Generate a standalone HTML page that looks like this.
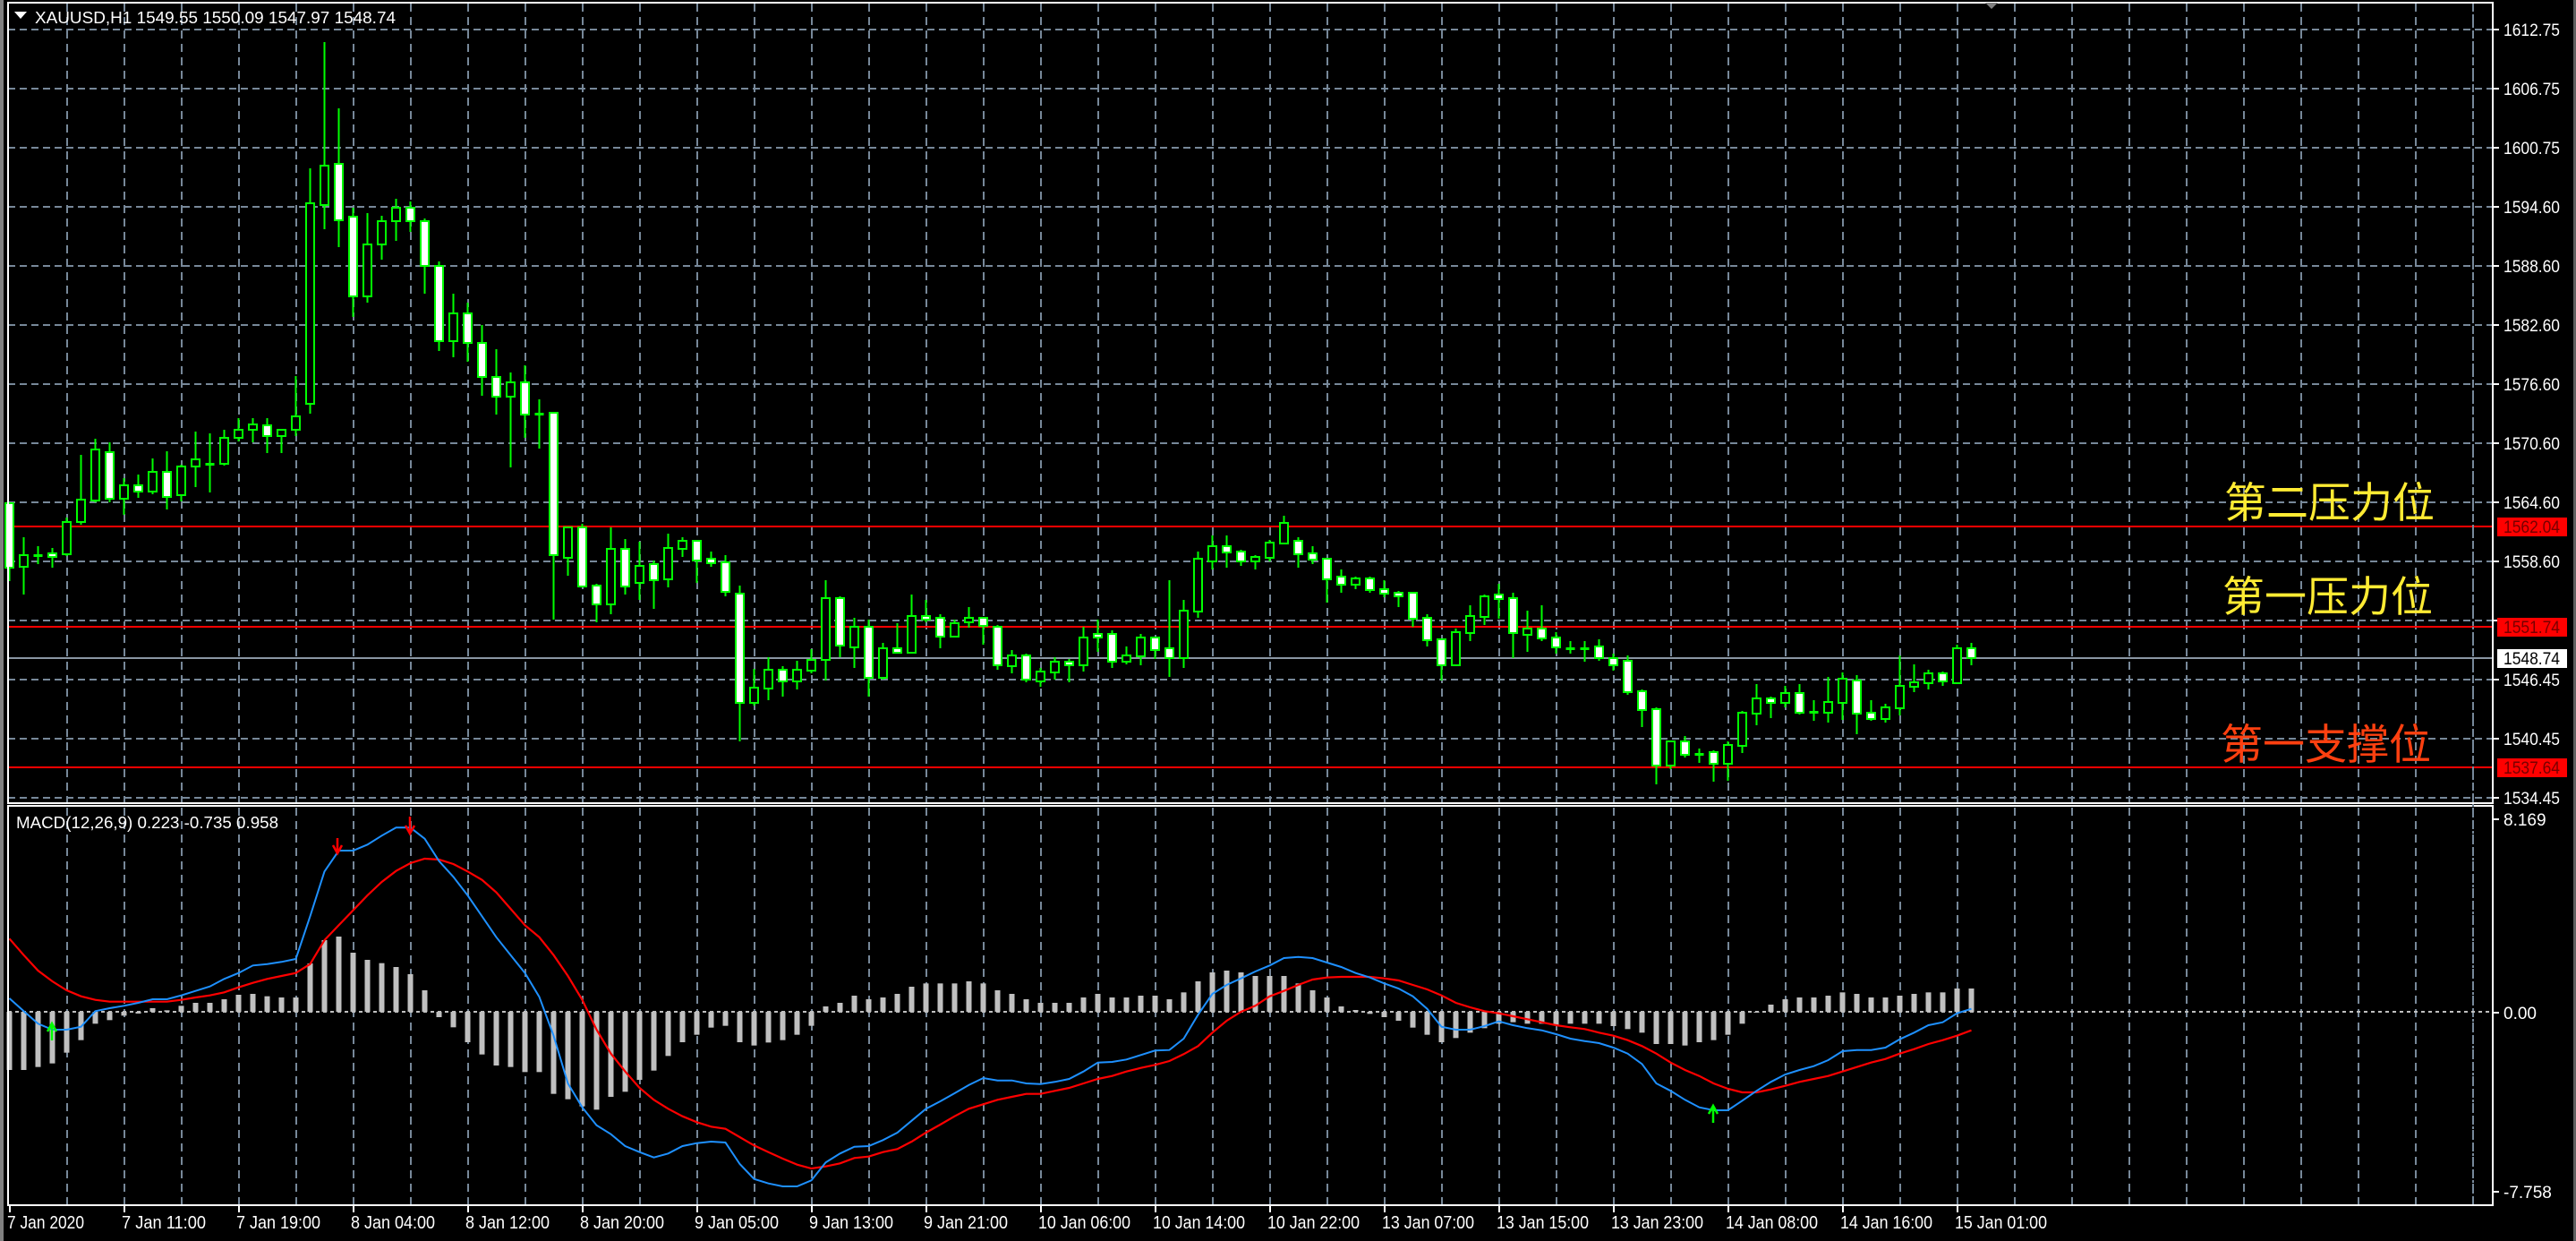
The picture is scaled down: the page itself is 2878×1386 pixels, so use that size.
<!DOCTYPE html>
<html><head><meta charset="utf-8"><style>
html,body{margin:0;padding:0;background:#000;overflow:hidden}
svg{display:block}
text{font-family:"Liberation Sans","Noto Sans CJK SC",sans-serif}
</style></head><body>
<svg id="s" width="2878" height="1386" xmlns="http://www.w3.org/2000/svg">
<rect x="0" y="0" width="2878" height="1386" fill="#000"/>
<rect x="0" y="0" width="4" height="1386" fill="#808080"/>
<rect x="2875" y="0" width="3" height="1386" fill="#606060"/>
<g id="grid"></g>
<g id="lines"></g>
<g id="candles"></g>
<g id="macd"></g>
<g id="axes"></g>
<text x="39" y="26" fill="#fff" font-size="18" textLength="403" lengthAdjust="spacingAndGlyphs">XAUUSD,H1  1549.55 1550.09 1547.97 1548.74</text>
<polygon points="16,13 30,13 23,21" fill="#fff"/>
<polygon points="2218,3 2232,3 2225,10" fill="#808080"/>
<text x="18" y="925" fill="#fff" font-size="18" textLength="293" lengthAdjust="spacingAndGlyphs">MACD(12,26,9) 0.223 -0.735 0.958</text>
<text x="2485" y="578" fill="#ffeb33" font-size="47" style='font-family:"Noto Sans CJK SC",sans-serif'>第二压力位</text>
<text x="2483" y="683" fill="#ffeb33" font-size="47" style='font-family:"Noto Sans CJK SC",sans-serif'>第一压力位</text>
<text x="2481" y="848" fill="#ff4010" font-size="47" style='font-family:"Noto Sans CJK SC",sans-serif'>第一支撑位</text>
</svg>
<script>
var NS="http://www.w3.org/2000/svg";
function el(g,t,a){var e=document.createElementNS(NS,t);for(var k in a)e.setAttribute(k,a[k]);document.getElementById(g).appendChild(e);return e;}
function tx(g,x,y,s,a){var e=el(g,"text",a);e.setAttribute("x",x);e.setAttribute("y",y);e.textContent=s;return e;}
var GC="#778899";
// horizontal grid main
for(var k=0;k<14;k++){var y=33+66*k;el("grid","line",{x1:9,x2:2785,y1:y,y2:y,stroke:GC,"stroke-width":2,"stroke-dasharray":"8,5"});}
// vertical grid
for(var x=75;x<2785;x+=64){
 el("grid","line",{x1:x,x2:x,y1:4,y2:896,stroke:GC,"stroke-width":2,"stroke-dasharray":"9,6"});
 el("grid","line",{x1:x,x2:x,y1:902,y2:1345,stroke:GC,"stroke-width":2,"stroke-dasharray":"9,6"});
}
// level lines
[588,700,857].forEach(function(y){el("lines","line",{x1:9,x2:2785,y1:y,y2:y,stroke:"#ff0000","stroke-width":2});});
el("lines","line",{x1:9,x2:2785,y1:735,y2:735,stroke:"#8a96a3","stroke-width":2});
// candles [bodyTop, bodyBot, wickTop, wickBot, filled]
var C=[[562,634,562,649,1],[620,633,600,664,0],[620,621,610,630,0],[618,622,612,634,1],[583,619,578,621,0],[558,583,508,586,0],[502,559,490,561,0],[505,557,494,561,1],[542,557,534,575,0],[542,549,530,556,1],
[527,549,512,552,0],[527,555,504,569,1],[521,553,519,560,0],[513,521,482,544,0],[518,518,484,550,0],[489,518,480,520,0],[480,489,467,493,0],[474,480,467,494,0],[475,487,467,506,1],[480,487,479,506,0],
[465,480,420,487,0],[227,451,188,462,0],[185,229,47,256,0],[183,246,121,276,1],[242,331,232,354,1],[273,331,238,338,0],[247,273,241,290,0],[232,247,222,269,0],[232,247,225,259,1],[247,297,244,328,1],
[297,381,292,392,1],[350,381,328,399,0],[350,383,338,404,1],[383,421,363,442,1],[421,443,390,463,1],[427,443,416,522,0],[427,463,408,489,1],[462,462,446,501,0],[461,620,461,692,1],[589,623,589,643,0],
[589,655,585,655,1],[654,675,652,695,1],[613,675,589,686,0],[613,655,602,664,1],[632,651,605,670,0],[630,648,626,680,1],[612,647,596,656,0],[604,613,600,622,0],[604,626,604,651,1],[624,629,616,633,1],
[628,661,620,666,1],[663,785,654,828,1],[768,785,747,788,0],[748,769,734,782,0],[748,761,744,778,1],[748,761,738,770,0],[737,749,725,752,0],[668,737,648,760,0],[668,721,666,734,1],[700,723,690,746,0],
[700,757,692,778,1],[724,757,718,759,0],[724,729,696,730,1],[688,729,664,730,0],[688,692,670,695,1],[690,711,686,724,1],[696,711,692,712,0],[690,695,678,701,0],[690,699,690,720,1],[700,743,698,748,1],
[732,744,726,752,0],[732,759,730,762,1],[750,761,746,767,0],[739,751,734,759,0],[739,743,736,762,1],[712,743,700,750,0],[708,712,692,728,1],[708,739,704,746,1],[732,739,722,742,0],[712,733,708,743,0],
[712,726,712,736,1],[724,735,648,756,1],[682,735,670,746,0],[624,683,616,690,0],[610,627,598,636,0],[610,617,598,634,1],[616,627,614,632,1],[622,627,620,636,0],[606,623,603,627,0],[584,607,576,607,0],
[604,619,600,634,1],[618,625,610,630,1],[624,647,624,673,1],[644,653,636,662,1],[646,653,644,658,0],[646,659,644,662,1],[658,663,648,667,1],[662,666,660,678,1],[662,691,662,700,1],[690,715,686,722,1],
[714,743,714,760,1],[706,743,702,743,0],[688,707,676,716,0],[666,689,664,698,0],[664,669,652,691,1],[668,707,662,735,1],[702,709,682,728,0],[702,713,676,716,1],[712,723,706,730,1],[724,724,716,730,0],
[724,724,716,739,0],[722,735,714,738,1],[735,743,730,749,1],[738,773,732,776,1],[772,793,770,812,1],[792,855,790,876,1],[828,855,828,859,0],[828,843,822,846,1],[842,842,836,852,0],[840,853,838,873,1],
[832,853,828,872,0],[796,833,794,841,0],[780,797,764,810,0],[780,785,778,802,1],[774,785,766,790,0],[774,796,764,798,1],[795,795,782,805,0],[784,796,756,807,0],[758,785,751,804,0],[760,797,754,820,1],
[796,803,782,805,1],[790,803,786,807,0],[766,791,732,799,0],[762,767,742,773,0],[752,763,748,770,0],[752,761,750,766,1],[724,763,720,763,0],[724,735,718,743,1]];
function cx(i){return 10.5+16*i;}
C.forEach(function(c,i){var x=cx(i);
 el("candles","line",{x1:x,x2:x,y1:c[2],y2:c[3],stroke:"#00ff00","stroke-width":2});
 var h=Math.max(c[1]-c[0],1);
 if(h<=2){el("candles","rect",{x:x-5,y:c[0]-1,width:10,height:3,fill:"#00ff00"});}
 else el("candles","rect",{x:x-4.5,y:c[0],width:9,height:h,fill:c[4]?"#fff":"#000",stroke:"#00ff00","stroke-width":2});
});
// MACD
function my(Y){return 890+Y/3;}
var H=[915,915,905,893,857,815,760,748,733,726,708,715,700,690,690,678,663,660,668,672,672,558,480,468,522,546,557,570,594,648,738,772,822,863,900,905,922,922,995,1013,1037,1048,1005,988,948,917,868,822,797,773,767,822,833,823,815,797,767,702,690,666,678,672,660,636,625,625,625,618,625,648,660,678,
690,690,690,672,660,672,672,666,666,678,655,618,588,582,588,600,600,600,625,648,672,702,714,727,738,750,773,797,822,808,790,775,760,755,760,760,765,760,760,760,768,778,790,828,828,833,822,815,797,760,722,696,678,672,672,666,655,660,672,672,666,660,655,655,642,642];
var Z=1130;
H.forEach(function(Y,i){var y=my(Y);var x=cx(i);el("macd","rect",{x:x-3,y:Math.min(y,Z),width:6,height:Math.max(Math.abs(y-Z),1),fill:"#c0c0c0"});});
el("macd","line",{x1:9,x2:2785,y1:Z,y2:Z,stroke:"#c0c0c0","stroke-width":2,"stroke-dasharray":"4,4"});
var B=[675,718,760,780,780,770,718,708,700,690,678,678,665,650,635,610,590,565,560,553,543,400,250,180,180,160,130,103,103,140,215,268,330,400,470,530,590,670,800,960,1040,1100,1130,1170,1190,1208,1195,1170,1160,1155,1158,1230,1280,1295,1305,1305,1285,1225,1195,1172,1170,1150,1125,1085,1045,1020,993,965,942,950,950,960,
962,955,945,920,890,888,880,865,850,848,810,730,660,630,608,585,565,540,536,540,555,570,590,605,625,642,668,710,770,780,780,768,752,765,775,782,795,810,818,825,840,860,895,960,985,1015,1040,1050,1050,1018,985,955,930,915,902,882,852,848,848,840,812,790,765,755,725,710];
var R=[475,530,582,618,648,668,680,686,686,686,686,686,680,672,665,655,638,623,610,600,590,560,480,430,380,330,285,248,222,207,210,225,250,278,320,375,430,470,530,600,680,780,860,920,975,1015,1045,1070,1090,1105,1112,1140,1168,1190,1212,1232,1245,1238,1228,1210,1205,1190,1180,1155,1125,1098,1070,1045,1030,1015,1005,995,
995,985,975,960,945,935,920,908,898,885,862,835,790,750,720,700,668,650,630,612,605,603,603,603,608,615,630,645,665,690,705,718,725,735,745,755,765,772,778,790,800,815,835,860,890,915,935,960,978,990,990,980,968,955,945,935,920,905,890,878,860,845,828,815,800,782];
function pts(A){return A.map(function(Y,i){return cx(i)+","+my(Y).toFixed(1);}).join(" ");}
el("macd","polyline",{points:pts(R),fill:"none",stroke:"#ff0000","stroke-width":2.2});
el("macd","polyline",{points:pts(B),fill:"none",stroke:"#1e90ff","stroke-width":2});
// arrows
function arrow(x,y1,y2,col,up){
 el("macd","line",{x1:x,x2:x,y1:y1,y2:y2,stroke:col,"stroke-width":2.5});
 if(up)el("macd","polyline",{points:(x-5)+","+(y1+9)+" "+x+","+y1+" "+(x+5)+","+(y1+9),fill:"none",stroke:col,"stroke-width":2.5});
 else el("macd","polyline",{points:(x-5)+","+(y2-9)+" "+x+","+y2+" "+(x+5)+","+(y2-9),fill:"none",stroke:col,"stroke-width":2.5});
}
arrow(377,936,953,"#ff0000",false);
arrow(458,912,931,"#ff0000",false);
arrow(58,1143,1162,"#00ff00",true);
arrow(1914,1235,1254,"#00ff00",true);
// borders
el("axes","rect",{x:9,y:3,width:2776,height:894,fill:"none",stroke:"#fff","stroke-width":2});
el("axes","rect",{x:9,y:900,width:2776,height:446,fill:"none",stroke:"#fff","stroke-width":2});
el("axes","line",{x1:2763,x2:2763,y1:4,y2:1345,stroke:GC,"stroke-width":2,"stroke-dasharray":"3,3"});
// price labels
var P=["1612.75","1606.75","1600.75","1594.60","1588.60","1582.60","1576.60","1570.60","1564.60","1558.60","","1546.45","1540.45","1534.45"];
P.forEach(function(s,k){var y=33+66*k;el("axes","line",{x1:2785,x2:2792,y1:y,y2:y,stroke:"#fff","stroke-width":2});
 if(s)tx("axes",2797,y+7,s,{fill:"#fff","font-size":19,textLength:63,lengthAdjust:"spacingAndGlyphs"});});
[[588,"1562.04","#ff0000","#700"],[700,"1551.74","#ff0000","#700"],[857,"1537.64","#ff0000","#700"],[735,"1548.74","#fff","#000"]].forEach(function(a){
 el("axes","rect",{x:2790,y:a[0]-10,width:78,height:21,fill:a[2]});
 tx("axes",2797,a[0]+7,a[1],{fill:a[3],"font-size":19,textLength:63,lengthAdjust:"spacingAndGlyphs"});});
[[915,"8.169"],[1131,"0.00"],[1331,"-7.758"]].forEach(function(a){el("axes","line",{x1:2785,x2:2792,y1:a[0],y2:a[0],stroke:"#fff","stroke-width":2});
 tx("axes",2797,a[0]+7,a[1],{fill:"#fff","font-size":19});});
// time labels
var T=["7 Jan 2020","7 Jan 11:00","7 Jan 19:00","8 Jan 04:00","8 Jan 12:00","8 Jan 20:00","9 Jan 05:00","9 Jan 13:00","9 Jan 21:00","10 Jan 06:00","10 Jan 14:00","10 Jan 22:00","13 Jan 07:00","13 Jan 15:00","13 Jan 23:00","14 Jan 08:00","14 Jan 16:00","15 Jan 01:00"];
T.forEach(function(s,k){var x=11+128*k;el("axes","line",{x1:x,x2:x,y1:1346,y2:1354,stroke:"#fff","stroke-width":2});
 tx("axes",x-3,1372,s,{fill:"#fff","font-size":20,textLength:Math.round(s.length*8.55),lengthAdjust:"spacingAndGlyphs"});});
</script>
</body></html>
